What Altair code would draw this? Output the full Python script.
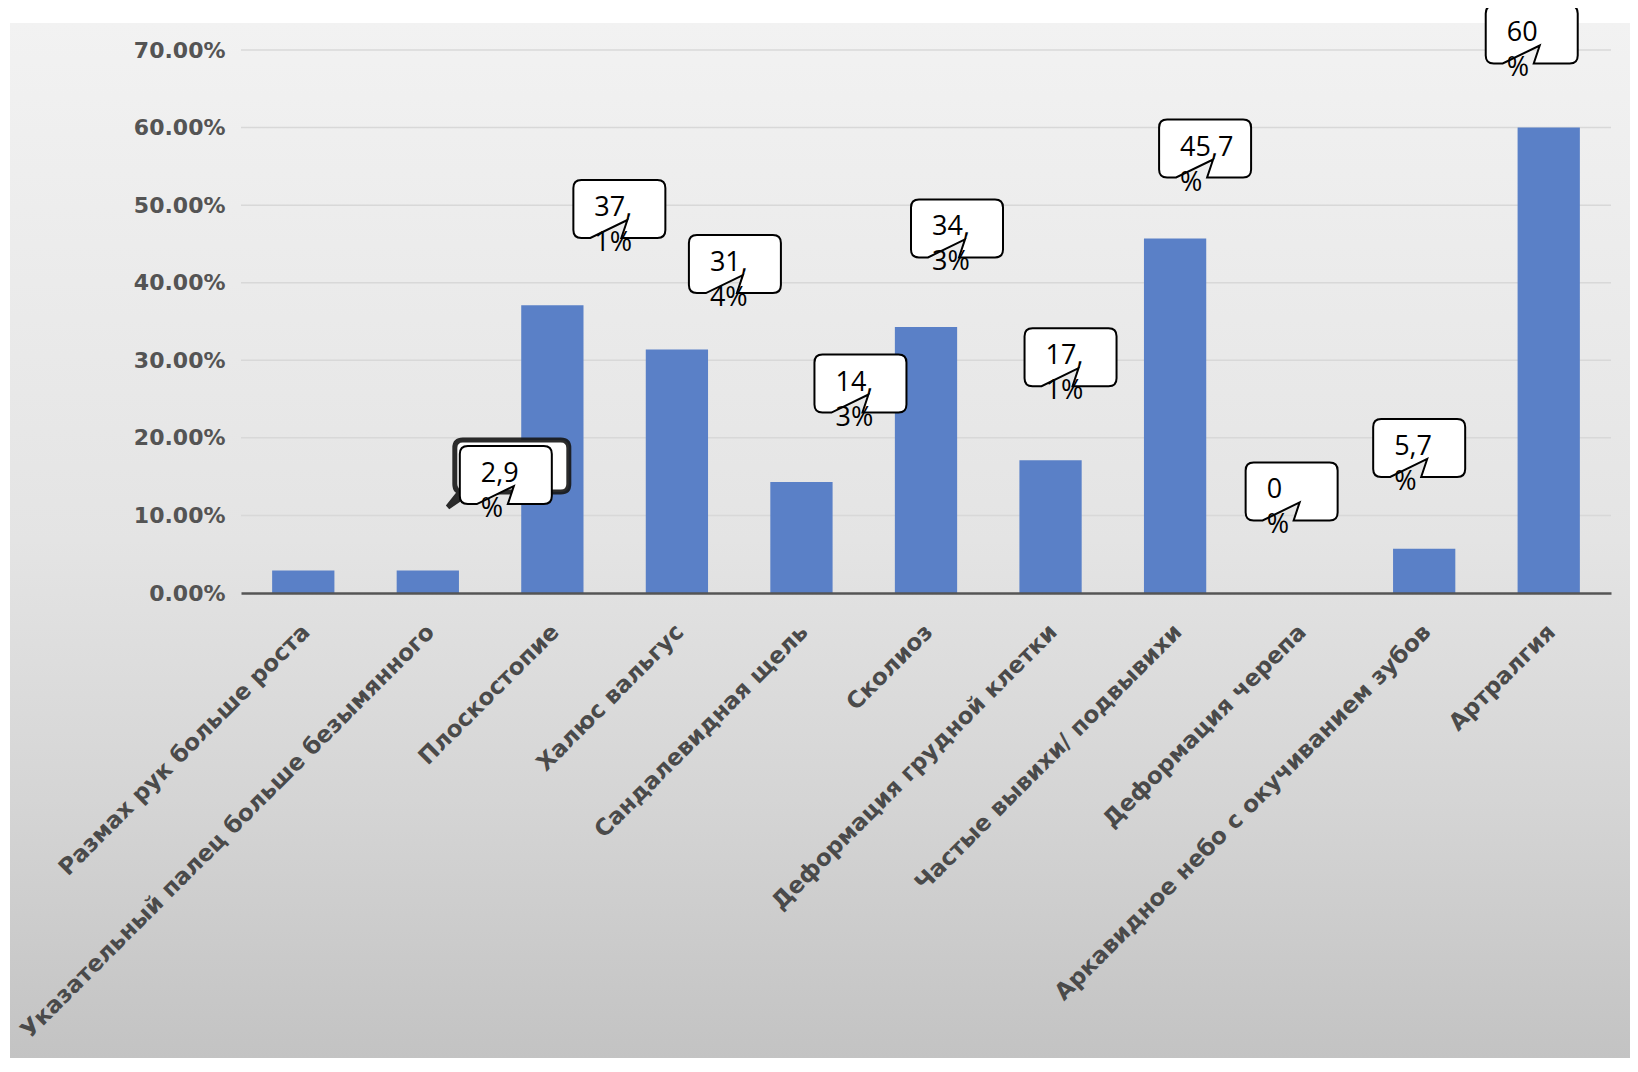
import altair as alt
import pandas as pd

# ---------------- data ----------------
categories = [
    "Размах рук больше роста",
    "Указательный палец больше безымянного",
    "Плоскостопие",
    "Халюс вальгус",
    "Сандалевидная щель",
    "Сколиоз",
    "Деформация грудной клетки",
    "Частые вывихи/ подвывихи",
    "Деформация черепа",
    "Аркавидное небо с окучиванием зубов",
    "Артралгия",
]
values = [0.029, 0.029, 0.371, 0.314, 0.143, 0.343, 0.171, 0.457, 0.0, 0.057, 0.60]

# callout texts (two lines, as in the picture)
callout_line1 = [None, "2,9", "37,", "31,", "14,", "34,", "17,", "45,7", "0", "5,7", "60"]
callout_line2 = [None, "%", "1%", "4%", "3%", "3%", "1%", "%", "%", "%", "%"]
# callout anchor height (data units) and horizontal shift from the bar centre (px)
callout_at = [None, 0.152, 0.495, 0.424, 0.270, 0.470, 0.304, 0.573, 0.131, 0.187, 0.720]
callout_dx = [None, 78, 67, 58, 59, 31, 20, 30, -8, -5, -17]

y_ticks = [0.0, 0.1, 0.2, 0.3, 0.4, 0.5, 0.6, 0.7]

# ---------------- tables ----------------
bars_df = pd.DataFrame({"category": categories, "value": values})
call_df = pd.DataFrame({
    "category": categories,
    "line1": callout_line1,
    "line2": callout_line2,
    "at": callout_at,
    "dx": callout_dx,
}).dropna()
shadow_df = call_df[call_df["category"] == categories[1]]
grid_df = pd.DataFrame({"tick": y_ticks[1:]})
bg_df = pd.DataFrame({"k": [0]})

W, H = 1370, 543
PAD = {"left": 233, "top": 42, "right": 19, "bottom": 465}
P_INNER, P_OUTER = 0.5, 0.25
HALF_BAND = W / len(categories) * (1 - P_INNER) / 2  # xOffset is measured from band start

# ---------------- shapes (pixel units, size=4 -> 1 unit = 1 px) ----------------
BOX = ("M -38 -29 L 38 -29 Q 46 -29 46 -21 L 46 21 Q 46 29 38 29 "
       "L 2 29 L 8 11 L -29 29 L -38 29 Q -46 29 -46 21 L -46 -21 "
       "Q -46 -29 -38 -29 Z")
SHADOW = ("M -43 -35 L 55 -35 Q 63 -35 63 -27 L 63 9 Q 63 17 55 17 "
          "L -36 17 L -58 32 L -46 17 L -43 17 Q -51 17 -51 9 L -51 -27 "
          "Q -51 -35 -43 -35 Z")

x_scale = alt.Scale(domain=categories, paddingInner=P_INNER, paddingOuter=P_OUTER)
x_axis = alt.Axis(
    title=None, labelAngle=-45, labelAlign="right", labelBaseline="middle",
    labelLimit=0, labelPadding=35, labelOffset=3, ticks=False,
    domainColor="#555555", domainWidth=2.5, labelFont="DejaVu Sans",
    labelFontWeight="bold", labelFontSize=23, labelColor="#4a4a4a",
    grid=False, zindex=1, labelOverlap=False,
)
y_scale = alt.Scale(domain=[0, 0.7], nice=False, zero=True)
y_axis = alt.Axis(
    title=None, format=".2%", values=y_ticks, domain=False, ticks=False,
    grid=False, labelFont="DejaVu Sans", labelFontWeight="bold",
    labelFontSize=22, labelColor="#545454", labelPadding=16, zindex=1,
)


def X():
    return alt.X("category:N", scale=x_scale, axis=x_axis)


background = alt.Chart(bg_df).mark_rect(
    color=alt.LinearGradient(
        gradient="linear",
        stops=[
            alt.GradientStop(color="#f2f2f2", offset=0),
            alt.GradientStop(color="#e4e4e4", offset=0.5),
            alt.GradientStop(color="#d5d5d5", offset=0.75),
            alt.GradientStop(color="#c3c3c3", offset=1),
        ],
        x1=0, x2=0, y1=0, y2=1,
    )
).encode(
    x=alt.value(-PAD["left"] + 2),
    x2=alt.value(W + PAD["right"]),
    y=alt.value(-PAD["top"] + 15),
    y2=alt.value(H + PAD["bottom"]),
)

grid = alt.Chart(grid_df).mark_rule(color="#d8d8d8", strokeWidth=1.5).encode(
    y=alt.Y("tick:Q", scale=y_scale, axis=y_axis)
)

bars = alt.Chart(bars_df).mark_bar(color="#5a80c7").encode(
    x=X(),
    y=alt.Y("value:Q", scale=y_scale, axis=y_axis),
)


def callout_base(df):
    return alt.Chart(df).transform_calculate(
        off=f"datum.dx + {HALF_BAND}"
    )


shadow = callout_base(shadow_df).mark_point(
    shape=SHADOW, size=4, filled=True, fill="white", stroke="#151515",
    strokeWidth=5, opacity=1, strokeOpacity=0.9,
).encode(
    x=X(),
    xOffset=alt.XOffset("off:Q", scale=None),
    y=alt.Y("at:Q", scale=y_scale, axis=y_axis),
)

boxes = callout_base(call_df).mark_point(
    shape=BOX, size=4, filled=True, fill="white", stroke="black",
    strokeWidth=2, opacity=1,
).encode(
    x=X(),
    xOffset=alt.XOffset("off:Q", scale=None),
    y=alt.Y("at:Q", scale=y_scale, axis=y_axis),
)

text1 = callout_base(call_df).mark_text(
    align="left", baseline="middle", dx=-25, dy=-1,
    font="Open Sans", fontSize=27, color="black",
).encode(
    x=X(),
    xOffset=alt.XOffset("off:Q", scale=None),
    y=alt.Y("at:Q", scale=y_scale, axis=y_axis),
    text="line1:N",
)

text2 = callout_base(call_df).mark_text(
    align="left", baseline="middle", dx=-25, dy=34,
    font="Open Sans", fontSize=27, color="black",
).encode(
    x=X(),
    xOffset=alt.XOffset("off:Q", scale=None),
    y=alt.Y("at:Q", scale=y_scale, axis=y_axis),
    text="line2:N",
)

chart = alt.layer(background, grid, bars, shadow, boxes, text1, text2).properties(
    width=W, height=H,
    autosize=alt.AutoSizeParams(type="none"),
    padding=PAD,
    background="white",
).configure_view(stroke=None)

chart.save("out.html", embed_options={"renderer": "svg", "actions": False})
